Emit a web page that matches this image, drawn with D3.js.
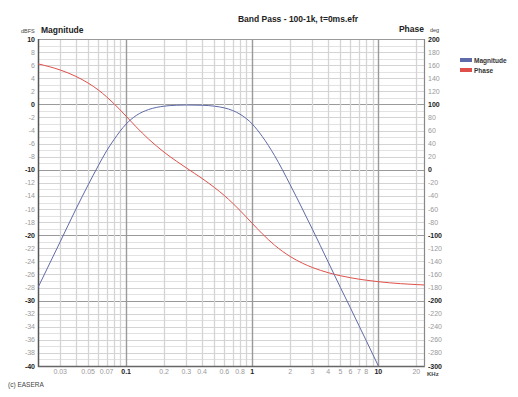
<!DOCTYPE html>
<html>
<head>
<meta charset="utf-8">
<script src="https://cdn.jsdelivr.net/npm/d3@7"></script>
<style>
  body { margin: 0; background: #fff; }
  svg { display: block; font-family: "Liberation Sans", Arial, sans-serif; }
</style>
</head>
<body>
<svg id="chart" width="518" height="397"></svg>
<script>
// frequencies in kHz
const magFreq = [0.02, 0.03, 0.04, 0.05, 0.06, 0.07, 0.08, 0.1, 0.12, 0.15, 0.2, 0.25, 0.3, 0.4, 0.5, 0.6, 0.7, 0.8, 1, 1.2, 1.5, 2, 2.5, 3, 4, 5, 6, 7, 8, 10];
const magDb = [-28.0, -21.0, -16.0, -12.3, -9.4, -7.1, -5.4, -3.0, -1.7, -0.8, -0.27, -0.13, -0.09, -0.13, -0.27, -0.53, -0.94, -1.5, -3.0, -4.9, -7.8, -12.3, -16.0, -19.1, -24.1, -28.0, -31.1, -33.8, -36.1, -40.0];
const phaseFreq = [0.02, 0.03, 0.04, 0.05, 0.06, 0.07, 0.08, 0.1, 0.12, 0.15, 0.2, 0.25, 0.3, 0.4, 0.5, 0.6, 0.7, 0.8, 1, 1.2, 1.5, 2, 2.5, 3, 4, 5, 6, 7, 8, 10, 15, 20, 23];
const phaseDeg = [162, 152.6, 142.8, 132.6, 122.2, 111.6, 101.2, 81.9, 65.7, 47.3, 26.9, 13.3, 2.9, -13.3, -26.9, -39.3, -51.1, -62.2, -81.9, -97.8, -115.1, -132.6, -142.8, -149.4, -157.3, -162.0, -165.0, -167.2, -168.8, -171.1, -174.1, -175.5, -176.1];

const xTickLabels = [0.03, 0.05, 0.07, 0.1, 0.2, 0.3, 0.4, 0.6, 0.8, 1, 2, 3, 4, 5, 6, 7, 8, 10, 20];
const xGrid = [0.03, 0.04, 0.05, 0.06, 0.07, 0.08, 0.09, 0.1, 0.2, 0.3, 0.4, 0.5, 0.6, 0.7, 0.8, 0.9, 1, 2, 3, 4, 5, 6, 7, 8, 9, 10, 20];
const majorX = [0.1, 1, 10];

const svg = d3.select("#chart");
const pLeft = 38, pRight = 424, pTop = 39, pBottom = 366;

const x = d3.scaleLog().domain([0.02, 23]).range([pLeft, pRight]);
const yMag = d3.scaleLinear().domain([-40, 10]).range([pBottom, pTop]);
const yPh = d3.scaleLinear().domain([-300, 200]).range([pBottom, pTop]);

const blue = "#5f6aa8";
const red = "#e0504a";

// horizontal grid, every 1 dB
const g = svg.append("g");
d3.range(-39, 10, 1).forEach(v => {
  const major = v % 10 === 0;
  g.append("line")
    .attr("x1", pLeft).attr("x2", pRight)
    .attr("y1", Math.round(yMag(v)) + 0.5).attr("y2", Math.round(yMag(v)) + 0.5)
    .attr("stroke", major ? "#9a9a9a" : (v % 2 === 0 ? "#d4d4d4" : "#e2e2e2"))
    .attr("stroke-width", major ? 1.2 : 1);
});
xGrid.forEach(f => {
  const major = majorX.includes(f);
  g.append("line")
    .attr("y1", pTop).attr("y2", pBottom)
    .attr("x1", Math.round(x(f)) + 0.5).attr("x2", Math.round(x(f)) + 0.5)
    .attr("stroke", major ? "#9a9a9a" : "#d4d4d4")
    .attr("stroke-width", major ? 1.4 : 1.3);
});

// frame
svg.append("rect")
  .attr("x", pLeft + 0.5).attr("y", pTop + 0.5)
  .attr("width", pRight - pLeft).attr("height", pBottom - pTop)
  .attr("fill", "none").attr("stroke", "#9a9a9a");
svg.append("line").attr("x1", pLeft + 0.5).attr("x2", pLeft + 0.5).attr("y1", pTop).attr("y2", pBottom + 1)
  .attr("stroke", "#555").attr("stroke-width", 1.5);
svg.append("line").attr("x1", pLeft).attr("x2", pRight + 1).attr("y1", pBottom + 0.5).attr("y2", pBottom + 0.5)
  .attr("stroke", "#666").attr("stroke-width", 1.5);
svg.append("line").attr("x1", pRight + 0.5).attr("x2", pRight + 0.5).attr("y1", pTop).attr("y2", pBottom + 1)
  .attr("stroke", "#888").attr("stroke-width", 1.2);

// left axis labels
d3.range(-40, 11, 2).forEach(v => {
  const major = v % 10 === 0;
  svg.append("text")
    .attr("x", 35).attr("y", yMag(v) + 2.5)
    .attr("text-anchor", "end")
    .attr("font-size", 7)
    .attr("font-weight", major ? "bold" : "normal")
    .attr("fill", major ? "#222" : "#999")
    .text(v);
});
// right axis labels
d3.range(-300, 201, 20).forEach(v => {
  const major = v % 100 === 0;
  svg.append("text")
    .attr("x", 428).attr("y", yPh(v) + 2.5)
    .attr("font-size", 7)
    .attr("font-weight", major ? "bold" : "normal")
    .attr("fill", major ? "#222" : "#999")
    .text(v);
});
// bottom labels
xTickLabels.forEach(f => {
  const major = majorX.includes(f);
  svg.append("text")
    .attr("x", x(f)).attr("y", 374)
    .attr("text-anchor", "middle")
    .attr("font-size", 7)
    .attr("font-weight", major ? "bold" : "normal")
    .attr("fill", major ? "#222" : "#999")
    .text(f);
});
svg.append("text").attr("x", 427).attr("y", 376).attr("font-size", 6).attr("font-weight", "bold")
  .attr("fill", "#444").text("KHz");

// curves
svg.append("clipPath").attr("id", "plot").append("rect")
  .attr("x", pLeft).attr("y", pTop).attr("width", pRight - pLeft).attr("height", pBottom - pTop + 1);

const magLine = d3.line().curve(d3.curveMonotoneX).x((d, i) => x(magFreq[i])).y(d => yMag(d));
const phLine = d3.line().curve(d3.curveMonotoneX).x((d, i) => x(phaseFreq[i])).y(d => yPh(d));

svg.append("path").datum(phaseDeg).attr("d", phLine)
  .attr("fill", "none").attr("stroke", red).attr("stroke-width", 1)
  .attr("clip-path", "url(#plot)");
svg.append("path").datum(magDb).attr("d", magLine)
  .attr("fill", "none").attr("stroke", blue).attr("stroke-width", 1)
  .attr("clip-path", "url(#plot)");

// titles
svg.append("text").attr("x", 298).attr("y", 22).attr("text-anchor", "middle")
  .attr("font-size", 8.5).attr("font-weight", "bold").attr("fill", "#222")
  .text("Band Pass - 100-1k, t=0ms.efr");
svg.append("text").attr("x", 41).attr("y", 33).attr("font-size", 8.5).attr("font-weight", "bold")
  .attr("fill", "#222").text("Magnitude");
svg.append("text").attr("x", 21).attr("y", 33).attr("font-size", 5.5)
  .attr("fill", "#444").text("dBFS");
svg.append("text").attr("x", 424).attr("y", 32).attr("text-anchor", "end")
  .attr("font-size", 8.5).attr("font-weight", "bold").attr("fill", "#222").text("Phase");
svg.append("text").attr("x", 430).attr("y", 32).attr("font-size", 5.5)
  .attr("fill", "#444").text("deg");
svg.append("text").attr("x", 8).attr("y", 387).attr("font-size", 6.5)
  .attr("fill", "#444").text("(c) EASERA");

// legend
const legend = [["Magnitude", blue], ["Phase", red]];
legend.forEach(([name, c], i) => {
  svg.append("rect").attr("x", 460).attr("y", 58 + i * 10).attr("width", 12).attr("height", 4).attr("fill", c);
  svg.append("text").attr("x", 474).attr("y", 62.5 + i * 10).attr("font-size", 6.5)
    .attr("font-weight", "bold").attr("fill", "#333").text(name);
});
</script>
</body>
</html>
